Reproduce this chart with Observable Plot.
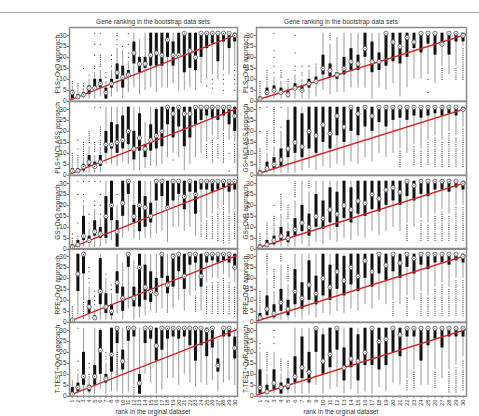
<!DOCTYPE html>
<html><head><meta charset="utf-8">
<script src="https://cdn.jsdelivr.net/npm/d3@7"></script>
<script src="https://cdn.jsdelivr.net/npm/@observablehq/plot@0.6"></script>
<style>
body{margin:0;background:#fff;font-family:"Liberation Sans",Arial,sans-serif;}
#chart{position:relative;width:479px;height:416px;overflow:hidden;background:#fff;}
.t{position:absolute;font-size:6.5px;color:#333;white-space:nowrap;transform:translate(-50%,-50%);}
.yl{position:absolute;font-size:6.5px;color:#333;white-space:nowrap;transform:translate(-50%,-50%) rotate(-90deg);}
#chart svg{position:absolute;overflow:visible;}
</style></head><body><div id="chart"></div>
<script>
// categories / tick labels
const ranks = [1,2,3,4,5,6,7,8,9,10,11,12,13,14,15,16,17,18,19,20,21,22,23,24,25,26,27,28,29,30];
const yTicks = [0,5,10,15,20,25,30];
const identityLine = [0, 31];
const title = "Gene ranking in the bootstrap data sets";
const xTitle = "rank in the orginal dataset";

// each row: [whisker low, Q1, median, Q3, whisker high, outliers]
const plsOvO = [
[1,1,4,5,7,"8,9"],[1,1,2,3,5,"6,7,8"],[1,2,3,4,6,"7,8,15"],[1,3,6,7,10,"12"],[1,5,6,10,13,"15,16,21,26,31"],
[2,6,8,10,14,"16,17,18,19,20,21,26,31"],[1,1,4,6,9,"11,13"],[2,6,8,10,14,"16,19,21"],[4,10,13,17,24,"26,28,30,31"],[1,6,11,16,23,"25"],
[4,11,12,14,18,"20,22,26,31"],[6,17,22,27,31,""],[3,13,17,20,28,""],[5,15,17,20,31,""],[6,16,21,31,31,""],
[4,16,22,31,31,""],[6,16,21,31,31,""],[6,20,28,31,31,""],[8,16,21,27,31,""],[5,20,21,31,31,""],
[5,13,31,31,31,""],[6,15,23,31,31,""],[5,14,20,31,31,""],[8,20,31,31,31,""],[10,24,31,31,31,"7"],
[12,26,31,31,31,"6,8,10"],[10,18,31,31,31,""],[14,27,31,31,31,"5,8,10,12"],[12,24,31,31,31,""],[16,27,30,31,31,"5,8,10,12,14"]];
const plsOvR = [
[1,1,1,2,3,"4-9"],[1,3,4,6,9,"10-14"],[1,4,5,7,11,"13,16,20,23,31"],[1,3,4,6,9,"11-14"],[1,2,3,5,8,"9,10"],
[1,5,6,8,12,"14,16,22,30"],[1,4,5,7,10,"12,13,16"],[1,6,8,10,14,"16"],[2,8,9,11,16,"17"],[5,12,15,21,31,""],
[3,11,14,17,26,"28-31"],[4,10,12,13,29,""],[4,12,15,20,31,""],[6,14,18,24,31,""],[6,14,17,21,31,""],
[6,20,24,31,31,""],[1,13,18,27,31,""],[6,14,18,22,31,""],[5,16,31,31,31,""],[8,18,27,31,31,""],
[2,17,25,31,31,""],[6,20,29,31,31,""],[10,24,27,31,31,""],[10,22,31,31,31,""],[12,26,31,31,31,"4,10"],
[8,21,31,31,31,""],[16,25,26,31,31,"10-15"],[12,21,31,31,31,""],[16,27,31,31,31,"10-15"],[25,27,30,31,31,"10-24"]];
const plsMclass = [
[1,1,2,3,5,"6-10"],[1,1,2,3,5,"6-9,12,16"],[1,2,4,5,8,"9-15"],[1,4,6,9,13,"15-20"],[1,3,4,6,9,"11-15,31"],
[1,4,6,9,13,"14-16,18-22,31"],[5,10,14,20,31,""],[5,12,14,24,31,""],[4,10,15,23,31,""],[6,12,16,27,31,""],
[5,14,20,31,31,""],[2,7,12,20,31,""],[2,11,17,28,31,""],[3,8,12,14,24,""],[4,11,16,23,31,""],
[4,12,18,30,31,""],[5,13,20,31,31,""],[8,23,31,31,31,""],[10,17,28,31,31,"7"],[8,22,31,31,31,""],
[2,13,28,31,31,""],[5,17,28,31,31,""],[8,23,31,31,31,""],[10,25,31,31,31,""],[15,27,31,31,31,"8-14"],
[18,26,31,31,31,"6-16"],[16,25,31,31,31,"8-14"],[20,27,31,31,31,"6-19"],[16,23,31,31,31,"2,10"],[15,20,27,31,31,"6-14"]];
const gsMclass = [
[1,1,1,2,4,"5-12,20,31"],[1,2,3,6,10,"12-20,31"],[1,3,5,8,13,"15-31"],[1,4,7,12,20,"22,31"],[1,8,12,25,31,""],
[1,10,15,31,31,""],[2,8,13,28,31,""],[3,12,20,31,31,""],[2,10,18,31,31,""],[4,15,23,31,31,""],
[3,12,19,31,31,""],[5,18,27,31,31,""],[4,15,22,31,31,""],[6,20,31,31,31,""],[5,18,28,31,31,""],
[8,22,31,31,31,""],[6,20,27,31,31,""],[10,24,31,31,31,""],[8,22,31,31,31,""],[10,25,31,31,31,""],
[12,26,31,31,31,"4-11"],[10,25,31,31,31,""],[14,27,31,31,31,"5-13"],[12,26,31,31,31,"4-11"],[16,27,31,31,31,"5-15"],
[18,28,31,31,31,"4-17"],[16,27,31,31,31,"4-15"],[20,28,31,31,31,"4-19"],[18,27,31,31,31,"4-17"],[22,29,30,31,31,"4-21"]];
const gsOvO = [
[1,1,1,2,4,"5,7"],[1,1,2,4,5,"6,12,25,31"],[1,4,6,15,20,"22,25,31"],[1,3,4,6,9,"12,16,31"],[1,6,8,13,18,"20,22,31"],
[1,5,7,10,14,"16,20,25,31"],[2,5,15,24,31,""],[4,13,20,31,31,""],[1,1,8,13,20,"25"],[5,15,21,31,31,""],
[8,25,31,31,31,""],[5,12,15,20,31,""],[4,8,20,31,31,""],[5,10,19,24,31,""],[5,12,15,21,31,""],
[7,22,31,31,31,""],[8,24,31,31,31,""],[3,18,19,31,31,""],[10,22,31,31,31,""],[10,25,31,31,31,""],
[8,18,24,31,31,""],[10,26,31,31,31,""],[6,16,25,31,31,""],[12,27,31,31,31,"6-11"],[14,27,31,31,31,"5-13"],
[16,26,31,31,31,"5-15"],[18,27,31,31,31,"4-17"],[20,28,31,31,31,"3-19"],[16,26,31,31,31,"3-15"],[18,27,31,31,31,"5-17"]];
const gsOvR = [
[1,1,1,2,3,"4-7"],[1,1,2,4,6,"7-12"],[1,2,4,6,10,"11-15,20"],[1,4,6,10,16,"18-25"],[1,3,5,8,12,"14-20"],
[1,6,9,14,22,"24-31"],[2,8,12,20,31,""],[1,6,10,16,26,"28-31"],[3,10,15,25,31,""],[2,9,14,22,31,""],
[4,12,18,28,31,""],[3,10,16,26,31,""],[5,14,20,31,31,""],[4,12,18,28,31,""],[6,16,22,31,31,""],
[5,15,21,31,31,""],[8,18,25,31,31,""],[6,17,23,31,31,""],[8,20,27,31,31,""],[10,22,28,31,31,""],
[8,20,26,31,31,""],[12,24,31,31,31,"4-11"],[10,22,29,31,31,""],[14,25,31,31,31,"4-13"],[12,24,31,31,31,"4-11"],
[16,27,31,31,31,"4-15"],[18,27,31,31,31,"4-17"],[16,26,31,31,31,"4-15"],[20,28,31,31,31,"4-19"],[20,27,30,31,31,"4-19"]];
const rfeOvO = [
[1,1,1,1,1,"2-7"],[3,14,22,31,31,""],[10,22,31,31,31,"2-9"],[1,4,7,10,16,"18,20,23,25"],[1,1,2,3,6,"8,10,12,14"],
[1,8,14,29,31,""],[1,4,7,13,20,"22"],[1,3,5,8,13,"15,17"],[4,13,18,23,31,""],[1,5,11,16,27,""],
[6,25,31,31,31,""],[1,7,11,16,28,""],[2,7,25,31,31,""],[3,10,16,26,31,""],[5,9,14,23,31,""],
[4,13,13,20,31,""],[6,20,31,31,31,""],[4,13,17,21,31,""],[6,16,30,31,31,""],[10,23,31,31,31,""],
[5,15,21,31,31,""],[12,26,31,31,31,""],[14,27,31,31,31,"5-12"],[5,16,21,31,31,""],[18,27,31,31,31,"4-16"],
[20,28,31,31,31,"4-18"],[20,27,31,31,31,"4-18"],[22,28,31,31,31,"4-20"],[20,27,31,31,31,"4-18"],[18,25,25,31,31,"4-16"]];
const rfeOvR = [
[1,1,2,4,8,"9-14"],[1,3,6,12,20,"22-31"],[1,2,4,8,14,"16-24"],[1,5,9,15,26,"28-31"],[1,3,6,10,17,"19-26"],
[2,8,14,24,31,""],[1,6,11,18,31,""],[3,10,17,28,31,""],[2,8,13,21,31,""],[4,12,20,31,31,""],
[3,10,16,26,31,""],[5,15,23,31,31,""],[4,12,19,30,31,""],[6,17,25,31,31,""],[5,14,21,31,31,""],
[8,20,28,31,31,""],[6,16,23,31,31,""],[10,22,31,31,31,""],[8,19,26,31,31,""],[10,23,31,31,31,"3-9"],
[8,20,27,31,31,""],[12,25,31,31,31,"3-11"],[10,22,29,31,31,""],[14,26,31,31,31,"3-13"],[12,24,31,31,31,"3-11"],
[16,27,31,31,31,"3-15"],[18,27,31,31,31,"3-17"],[16,26,31,31,31,"3-15"],[20,28,31,31,31,"3-19"],[20,27,30,31,31,"3-19"]];
const ttestOvO = [
[1,1,1,4,7,""],[1,2,4,6,10,"12,16,31"],[1,5,9,20,31,""],[1,2,4,5,9,"10,13,15"],[1,5,9,14,31,""],
[3,10,21,30,31,""],[1,6,8,10,15,"17,18,20"],[2,11,19,31,31,""],[2,24,31,31,31,"10-20"],[1,12,16,21,31,""],
[2,25,31,31,31,""],[5,27,31,31,31,"1-4"],[1,1,6,10,31,""],[10,24,31,31,31,""],[6,26,31,31,31,""],
[1,16,23,31,31,""],[3,21,31,31,31,""],[8,26,31,31,31,""],[8,27,31,31,31,""],[5,26,31,31,31,""],
[10,27,31,31,31,""],[6,23,31,31,31,""],[4,16,31,31,31,""],[6,23,31,31,31,""],[5,18,30,31,31,""],
[7,22,31,31,31,""],[2,11,14,17,26,""],[6,27,31,31,31,""],[7,27,31,31,31,""],[5,17,22,27,31,""]];
const ttestOvR = [
[1,1,4,12,20,"22,24"],[1,1,2,5,10,"12-20"],[1,3,6,12,20,"24,27,30"],[1,1,4,6,10,"12-17"],[1,3,5,8,12,"13-16"],
[1,6,9,18,31,""],[1,8,13,27,31,""],[1,6,11,20,31,""],[5,20,31,31,31,""],[1,10,16,28,31,""],
[3,13,19,31,31,""],[4,21,31,31,31,""],[1,7,13,22,31,""],[3,13,17,31,31,""],[1,7,16,28,31,""],
[2,14,20,31,31,""],[1,14,31,31,31,""],[4,12,25,31,31,""],[2,14,26,31,31,""],[6,20,31,31,31,""],
[5,18,28,31,31,""],[8,27,31,31,31,"3-7"],[12,27,31,31,31,"4-11"],[5,16,31,31,31,""],[5,23,31,31,31,""],
[12,26,31,31,31,"4-11"],[8,22,31,31,31,""],[12,27,31,31,31,"2-11"],[14,27,31,31,31,"2-13"],[18,27,31,31,31,"3-16"]];

const panels = [
  {col:0,row:0,label:"PLS+OvO approach",rows:plsOvO},
  {col:1,row:0,label:"PLS+OvR approach",rows:plsOvR},
  {col:0,row:1,label:"PLS+MCLASS approach",rows:plsMclass},
  {col:1,row:1,label:"GS+MCLASS approach",rows:gsMclass},
  {col:0,row:2,label:"GS+OvO approach",rows:gsOvO},
  {col:1,row:2,label:"GS+OvR approach",rows:gsOvR},
  {col:0,row:3,label:"RFE+OvO approach",rows:rfeOvO},
  {col:1,row:3,label:"RFE+OvR approach",rows:rfeOvR},
  {col:0,row:4,label:"T-TEST+OvO approach",rows:ttestOvO},
  {col:1,row:4,label:"T-TEST+OvR approach",rows:ttestOvR}
];

function parseOut(s){
  const out=[];
  if(!s) return out;
  for(const tok of s.split(",")){
    if(tok.includes("-")){const [a,b]=tok.split("-").map(Number); for(let v=a;v<=b;v++) out.push(v);}
    else out.push(+tok);
  }
  return out;
}

const chart = document.getElementById("chart");
const colGeom = [{left:0,width:240,ml:69,mr:3,cx:153,lx:57},{left:240,width:239,ml:16,mr:13,cx:341,lx:245}];
const top0 = 27, pitch = 73.8, ph = 73.8;

for(const p of panels){
  const g = colGeom[p.col];
  const boxes = p.rows.map((r,i)=>({rank:ranks[i],lo:r[0],q1:r[1],med:r[2],q3:r[3],hi:r[4]}));
  const outs = [];
  p.rows.forEach((r,i)=>parseOut(r[5]).forEach(v=>outs.push({rank:ranks[i],v})));
  const bottom = p.row===4;
  const mt=1, mb = bottom?16:1;
  const svg = Plot.plot({
    width:g.width, height:ph+mt+mb,
    marginLeft:g.ml, marginRight:g.mr, marginTop:mt, marginBottom:mb,
    style:{fontFamily:"Liberation Sans, Arial, sans-serif", background:"transparent", color:"#333"},
    x:{type:"linear", domain:[0.5,30.5], axis:null},
    y:{domain:[0,33.6], axis:null},
    marks:[
      Plot.axisY({ticks:yTicks, tickSize:2, tickPadding:1, fontSize:6.5, label:null, stroke:"#666"}),
      bottom ? Plot.axisX({ticks:ranks, tickFormat:d=>String(d), tickRotate:-90, tickSize:2, tickPadding:1, fontSize:6, label:null, stroke:"#666"}) : null,
      Plot.ruleX(boxes,{x:"rank", y1:"lo", y2:"hi", stroke:"#999", strokeWidth:1}),
      Plot.ruleX(boxes,{x:"rank", y1:"q1", y2:"q3", stroke:"#111", strokeWidth:3}),
      Plot.dot(outs,{x:"rank", y:"v", r:0.55, fill:"#111", stroke:null}),
      Plot.line(identityLine,{x:d=>d, y:d=>d, stroke:"#d42626", strokeWidth:1.4, clip:true}),
      Plot.dot(boxes,{x:"rank", y:"med", r:2.1, fill:"white", stroke:"#666", strokeWidth:0.9}),
      Plot.dot(boxes,{x:"rank", y:"med", r:0.5, fill:"#333", stroke:null}),
      Plot.frame({stroke:"#8a8a8a", strokeWidth:1.5})
    ]
  });
  svg.style.left = g.left+"px";
  svg.style.top = (top0 + p.row*pitch - mt)+"px";
  chart.appendChild(svg);
  const yl=document.createElement("div"); yl.className="yl"; yl.textContent=p.label;
  yl.style.left=g.lx+"px"; yl.style.top=(top0 + p.row*pitch + ph/2)+"px"; chart.appendChild(yl);
}

// top rule
const rule = document.createElement("div");
rule.style.cssText="position:absolute;left:0;top:12px;width:479px;height:0;border-top:1px solid #aaa;";
chart.appendChild(rule);
for(const g of colGeom){
  const t=document.createElement("div"); t.className="t"; t.textContent=title;
  t.style.left=g.cx+"px"; t.style.top="21px"; chart.appendChild(t);
  const x=document.createElement("div"); x.className="t"; x.textContent=xTitle;
  x.style.left=g.cx+"px"; x.style.top="411px"; chart.appendChild(x);
}
</script></body></html>
